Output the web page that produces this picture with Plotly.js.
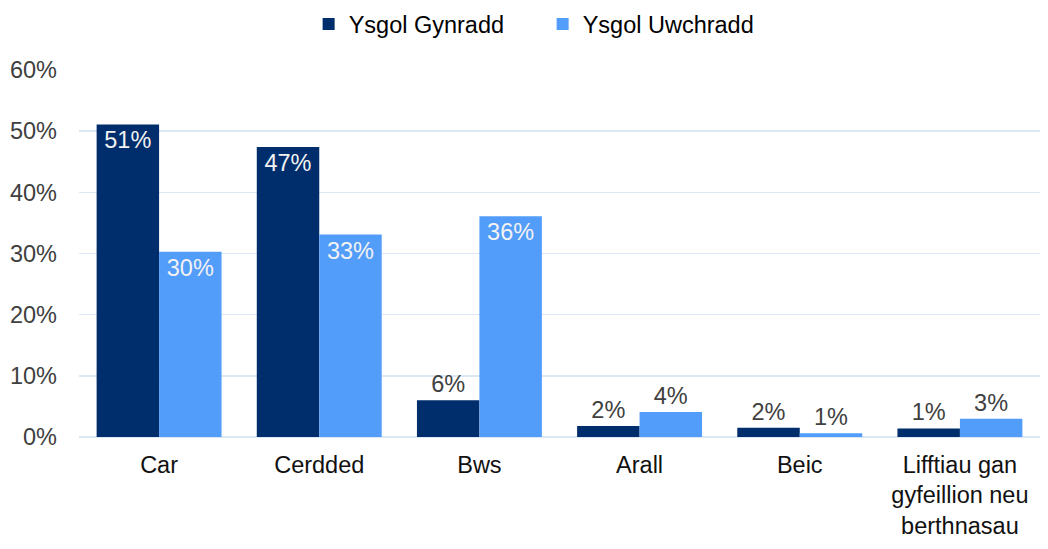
<!DOCTYPE html>
<html>
<head>
<meta charset="utf-8">
<script src="https://cdn.plot.ly/plotly-3.0.1.min.js"></script>
<style>html,body{margin:0;padding:0;background:#fff}#chart{width:1048px;height:549px}</style>
</head>
<body>
<div id="chart"></div>
<script>
const categories = ["Car", "Cerdded", "Bws", "Arall", "Beic", "Lifftiau gan<br>gyfeillion neu<br>berthnasau"];
const seriesNames = ["Ysgol Gynradd", "Ysgol Uwchradd"];
const primary = [51.1, 47.4, 6.0, 1.8, 1.5, 1.4];
const secondary = [30.3, 33.1, 36.1, 4.1, 0.6, 3.0];
const primaryLabels = ["51%", "47%", "6%", "2%", "2%", "1%"];
const secondaryLabels = ["30%", "33%", "36%", "4%", "1%", "3%"];
const yTicks = [0, 10, 20, 30, 40, 50, 60];

const FONT = "Liberation Sans, Arial, sans-serif";
const FS = 23.5;
const insideThreshold = 20;
function positions(vals){ return vals.map(v => v >= insideThreshold ? "inside" : "outside"); }

const traces = [
  {type: "bar", name: seriesNames[0], x: categories, y: primary, text: primaryLabels,
   textposition: positions(primary), insidetextanchor: "end", textangle: 0,
   marker: {color: "#002D6B"},
   insidetextfont: {color: "#F2F2F2", size: FS, family: FONT},
   outsidetextfont: {color: "#404040", size: FS, family: FONT},
   cliponaxis: false, hoverinfo: "none", texttemplate: "%{text}"},
  {type: "bar", name: seriesNames[1], x: categories, y: secondary, text: secondaryLabels,
   textposition: positions(secondary), insidetextanchor: "end", textangle: 0,
   marker: {color: "#529CFA"},
   insidetextfont: {color: "#F2F2F2", size: FS, family: FONT},
   outsidetextfont: {color: "#404040", size: FS, family: FONT},
   cliponaxis: false, hoverinfo: "none", texttemplate: "%{text}"}
];

const layout = {
  width: 1048, height: 549,
  margin: {l: 79, r: 8, t: 70, b: 112, autoexpand: false},
  paper_bgcolor: "#ffffff", plot_bgcolor: "#ffffff",
  font: {family: FONT, size: FS, color: "#404040"},
  barmode: "group", bargap: 0.22, bargroupgap: 0,
  uniformtext: {mode: false},
  showlegend: true,
  legend: {orientation: "h", xref: "container", yref: "container",
           x: 0.2945, xanchor: "left", y: 0.956, yanchor: "middle",
           entrywidth: 189, entrywidthmode: "pixels",
           font: {family: FONT, size: FS, color: "#000000"}, traceorder: "normal"},
  xaxis: {type: "category", showgrid: false, zeroline: false, showline: false,
          ticks: "", tickfont: {family: FONT, size: FS, color: "#111111"}, automargin: false,
          ticklabelstandoff: 11},
  yaxis: {range: [0, 60], tickvals: yTicks, ticktext: yTicks.map(v => v + "%"),
          showgrid: true, gridcolor: "#DCE7F5", gridwidth: 1.5, zeroline: true, zerolinecolor: "#DCE7F5",
          zerolinewidth: 1.5, showline: false, ticks: "", automargin: false,
          tickfont: {family: FONT, size: FS, color: "#404040"}, ticklabelstandoff: 21}
};

Plotly.newPlot("chart", traces, layout, {displayModeBar: false, staticPlot: true});
</script>
</body>
</html>
